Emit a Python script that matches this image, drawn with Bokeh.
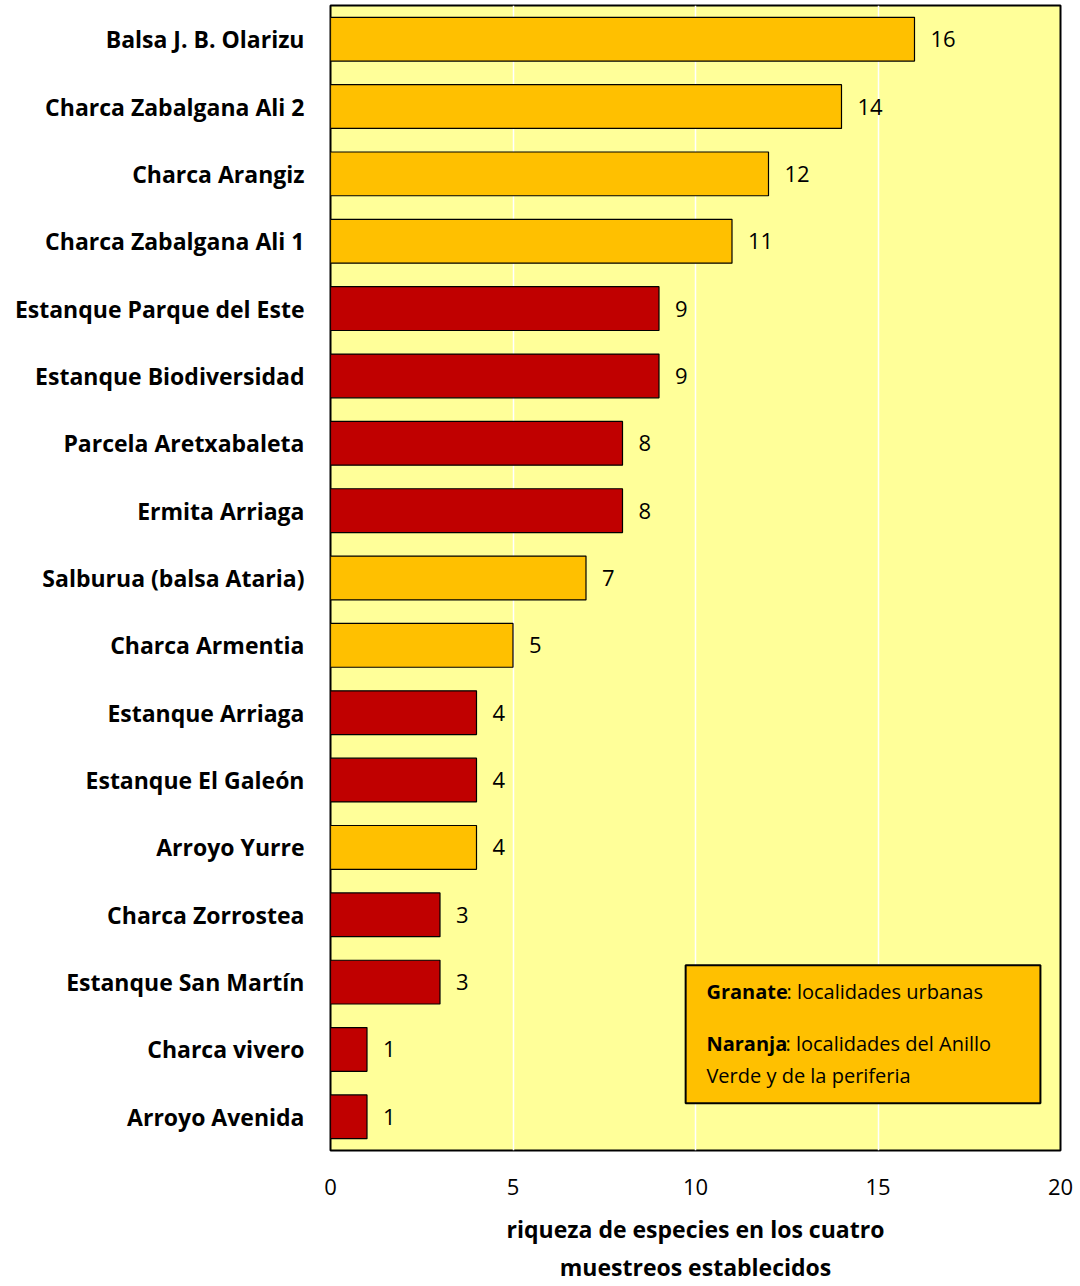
from bokeh.plotting import figure
from bokeh.models import FactorRange, Range1d, BoxAnnotation, Label, SingleIntervalTicker, ColumnDataSource
from bokeh.embed import file_html
from bokeh.resources import INLINE
from bokeh.core.properties import value

names = ["Balsa J. B. Olarizu", "Charca Zabalgana Ali 2", "Charca Arangiz", "Charca Zabalgana Ali 1",
         "Estanque Parque del Este", "Estanque Biodiversidad", "Parcela Aretxabaleta", "Ermita Arriaga",
         "Salburua (balsa Ataria)", "Charca Armentia", "Estanque Arriaga", "Estanque El Galeón",
         "Arroyo Yurre", "Charca Zorrostea", "Estanque San Martín", "Charca vivero", "Arroyo Avenida"]
values = [16, 14, 12, 11, 9, 9, 8, 8, 7, 5, 4, 4, 4, 3, 3, 1, 1]
groups = ["P", "P", "P", "P", "U", "U", "U", "U", "P", "P", "U", "U", "P", "U", "U", "U", "U"]
xlabel = "riqueza de especies en los cuatro\nmuestreos establecidos"
legend_bold = ["Granate", "Naranja"]
legend_rest = [": localidades urbanas", ": localidades del Anillo", "Verde y de la periferia"]

ORANGE = "#FFC000"
RED = "#C00000"
FONT = "Open Sans"
colors = [ORANGE if g == "P" else RED for g in groups]

src = ColumnDataSource(dict(name=names, val=values, color=colors, lab=[str(v) for v in values]))

p = figure(width=1080, height=1286, output_backend="svg", toolbar_location=None,
           y_range=FactorRange(factors=names[::-1], range_padding=0),
           x_range=Range1d(0, 20),
           min_border_left=330, min_border_right=20, min_border_top=5, min_border_bottom=136)

p.background_fill_color = "#FFFF99"
p.border_fill_color = "white"
p.outline_line_color = "black"
p.outline_line_width = 2

p.hbar(y="name", right="val", left=0, height=0.65, source=src, fill_color="color",
       line_color="black", line_width=1.2)
p.text(x="val", y="name", text="lab", source=src, x_offset=16, text_baseline="middle",
       text_align="left", text_font=value(FONT), text_font_size="22px", text_color="black")

p.xaxis.ticker = SingleIntervalTicker(interval=5)
p.xgrid.grid_line_color = "white"
p.xgrid.grid_line_width = 1.5
p.ygrid.grid_line_color = None
for ax in (p.xaxis, p.yaxis):
    ax.axis_line_color = None
    ax.major_tick_line_color = None
    ax.minor_tick_line_color = None
    ax.major_label_text_font = FONT
    ax.major_label_text_color = "black"

p.xaxis.major_label_text_font_size = "22px"
p.xaxis.major_label_standoff = 22
p.xaxis.axis_label = xlabel
p.xaxis.axis_label_text_font = FONT
p.xaxis.axis_label_text_font_size = "23px"
p.xaxis.axis_label_text_font_style = "bold"
p.xaxis.axis_label_text_color = "black"
p.xaxis.axis_label_standoff = 15

p.yaxis.major_label_text_font_size = "23px"
p.yaxis.major_label_text_font_style = "bold"
p.yaxis.major_label_standoff = 20

# legend box (synthetic categorical coordinates: 0 at bottom, 17 at top)
p.add_layout(BoxAnnotation(left=9.73, right=19.45, top=2.75, bottom=0.70,
                           fill_color=ORANGE, fill_alpha=1.0, line_color="black", line_alpha=1.0,
                           line_width=2, level="annotation"))
lx = 10.30
rows_y = [2.36, 1.59, 1.11]
fs = "20px"
def lab(text, y, xo=0, bold=False):
    p.add_layout(Label(x=lx, y=y, x_offset=xo, text=text, text_font=FONT,
                       text_font_style="bold" if bold else "normal", text_color="black",
                       text_font_size=fs, text_baseline="middle", level="overlay"))
lab(legend_bold[0], rows_y[0], bold=True)
lab(legend_rest[0], rows_y[0], xo=80)
lab(legend_bold[1], rows_y[1], bold=True)
lab(legend_rest[1], rows_y[1], xo=79)
lab(legend_rest[2], rows_y[2])

open("out.html", "w").write(file_html(p, INLINE))
